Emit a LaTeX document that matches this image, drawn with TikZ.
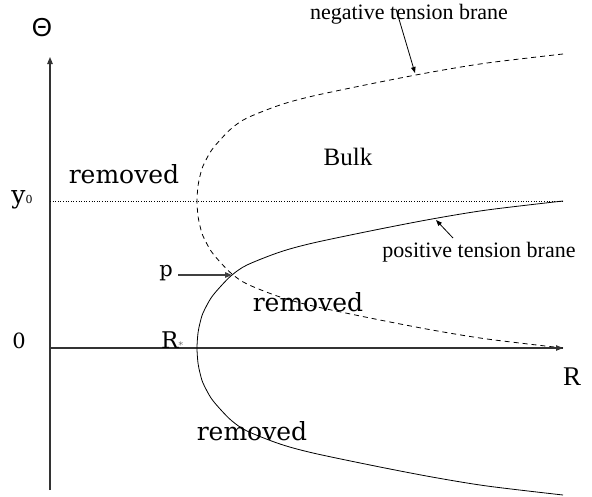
\documentclass[tikz,border=0pt]{standalone}
\usepackage{fontspec}
\usetikzlibrary{arrows.meta}
\newfontfamily\labfont{DejaVu Serif}
\newfontfamily\tmsfont{Liberation Serif}
\newfontfamily\sansfnt{Liberation Sans}
\begin{document}
\begin{tikzpicture}[x=1pt,y=-1pt,
  axisline/.style={draw=black!80,line width=1.1pt},
  tip/.style={-{Triangle[length=7pt,width=5.5pt]}},
  thin tip/.style={-{Triangle[length=6pt,width=4.5pt]}},
  brane/.style={line width=0.8pt},
  lab/.style={inner sep=0pt,font=\labfont\fontsize{25}{25}\selectfont},
  tms/.style={inner sep=0pt,font=\tmsfont\fontsize{22}{22}\selectfont},
]
\useasboundingbox (0,0) rectangle (592,496);
% axes
\coordinate (O) at (50,348);
\coordinate (ytop) at (50,57);
\coordinate (ybot) at (50,490);
\coordinate (xend) at (563,348);
\coordinate (y0l) at (50,201.5);
\coordinate (y0r) at (563,201.5);
\draw[axisline,tip] (ybot) -- (ytop);
\draw[axisline] (O) -- (xend);
\draw[line width=0.6pt,dash pattern=on 1pt off 1.6pt] (y0l) -- (y0r);
% positive tension brane (solid)
\draw[brane,shift={(197,348)}] plot[smooth] coordinates {
 (366,-147) (290,-138) (235,-129) (178,-118) (116,-105) (83,-96) (50,-83) (35,-73) (24,-62) (14,-50) (6,-35) (3,-25) (1,-15) (0,0) (1,15) (3,25) (6,35) (14,50) (24,62) (35,73) (50,83) (83,96) (116,105) (178,118) (235,129) (290,138) (366,147)};
% negative tension brane (dashed)
\draw[brane,dash pattern=on 5pt off 4pt,shift={(197,201)}] plot[smooth] coordinates {
 (366,-147) (290,-138) (235,-129) (178,-118) (116,-105) (83,-96) (50,-83) (35,-73) (24,-62) (14,-50) (6,-35) (3,-25) (1,-15) (0,0) (1,15) (3,25) (6,35) (14,50) (24,62) (35,73) (50,83) (83,96) (116,105) (178,118) (235,129) (290,138) (366,147)};
% arrow tip of R axis drawn on top
\draw[axisline,tip] (540,348) -- (xend);
% labels
\node[inner sep=0pt,font=\sansfnt\fontsize{26}{26}\selectfont] (theta) at (42,28) {Θ};
\node[lab,anchor=base] (y0) at (22,203) {y{\fontsize{11}{11}\selectfont 0}};
\node[lab,anchor=base,font=\labfont\fontsize{21}{21}\selectfont] (zero) at (19,348) {0};
\node[lab,anchor=base west,font=\labfont\fontsize{23}{23}\selectfont] (Rs) at (161,348) {R{\color{black!60}\fontsize{9}{9}\selectfont *}};
\node[lab,anchor=base,font=\labfont\fontsize{21}{21}\selectfont] (p) at (166,276) {p};
\node[anchor=base,inner sep=0pt,font=\tmsfont\fontsize{27}{27}\selectfont] (R) at (572,385) {R};
\node[lab,anchor=base] (rem1) at (124,183) {removed};
\node[lab,anchor=base] (rem2) at (308,311) {removed};
\node[lab,anchor=base] (rem3) at (252,440) {removed};
\node[anchor=base,inner sep=0pt,font=\tmsfont\fontsize{25}{25}\selectfont] (bulk) at (348,165) {Bulk};
\node[tms,anchor=base] (neglab) at (409,19) {negative tension brane};
\node[tms,anchor=base] (poslab) at (479,257) {positive tension brane};
% pointer arrows
\coordinate (negstart) at (396,9);
\coordinate (negtip) at (415,73);
\draw[line width=0.8pt,thin tip] (negstart) -- (negtip);
\coordinate (posstart) at (453,238);
\coordinate (postip) at (436,220);
\draw[line width=0.8pt,thin tip] (posstart) -- (postip);
\coordinate (pstart) at (178,275);
\coordinate (pp) at (232,275);
\draw[draw=black!75,line width=1.3pt,tip] (pstart) -- (pp);
\end{tikzpicture}
\end{document}
